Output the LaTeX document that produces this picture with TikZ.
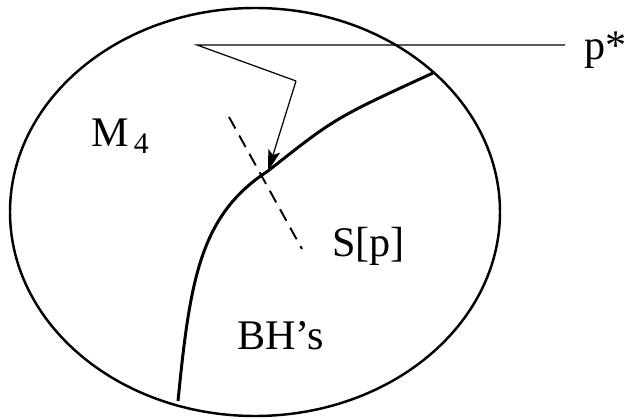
\documentclass[tikz,border=0pt]{standalone}
\usepackage{fontspec}
\setmainfont{Liberation Serif}
\usepackage{tikz}
\usetikzlibrary{arrows.meta, positioning}

\begin{document}
\begin{tikzpicture}[
        x=0.02cm, y=-0.02cm,
        label/.style={font=\fontsize{24}{28}\selectfont, inner sep=0pt, anchor=base west},
        border/.style={line width=1.4pt, draw=black},
        horizon/.style={line width=1.7pt, draw=black},
        ray/.style={line width=0.7pt, draw=black},
        arrow/.style={-{Stealth[length=12pt, width=7pt, inset=2.5pt]}, line width=0.7pt},
        slice/.style={line width=1.1pt, dash pattern=on 7.5pt off 4.5pt}
    ]
        \useasboundingbox (0,0) rectangle (629,418);

        % Spacetime
        \draw[border] (255,212) ellipse [x radius=245, y radius=204];

        % Points
        \coordinate (start) at (197,45);
        \coordinate (bend) at (296,81);
        \coordinate (hit) at (268,171);
        \coordinate (far) at (565,45);
        \coordinate (low) at (178,401);
        \coordinate (edge) at (433,73);
        \coordinate (sa) at (229,117);
        \coordinate (sb) at (302,249);

        % Labels
        \node[label] (pstar) at (584,60) {p*};
        \node[label] (m4) at (91,147) {M\raisebox{-0.35ex}{\fontsize{17}{20}\selectfont\,4}};
        \node[label] (slab) at (332,257) {S[p]};
        \node[label] (bh) at (237,350) {BH's};

        % Horizon
        \draw[horizon] (low) .. controls (190,280) and (200,215) .. (hit)
            .. controls (335,118) .. (edge);

        % Light ray
        \draw[ray] (far) -- (start) -- (bend);
        \draw[arrow] (bend) -- (hit);

        % Slice
        \draw[slice] (sa) -- (sb);
    \end{tikzpicture}
\end{document}
